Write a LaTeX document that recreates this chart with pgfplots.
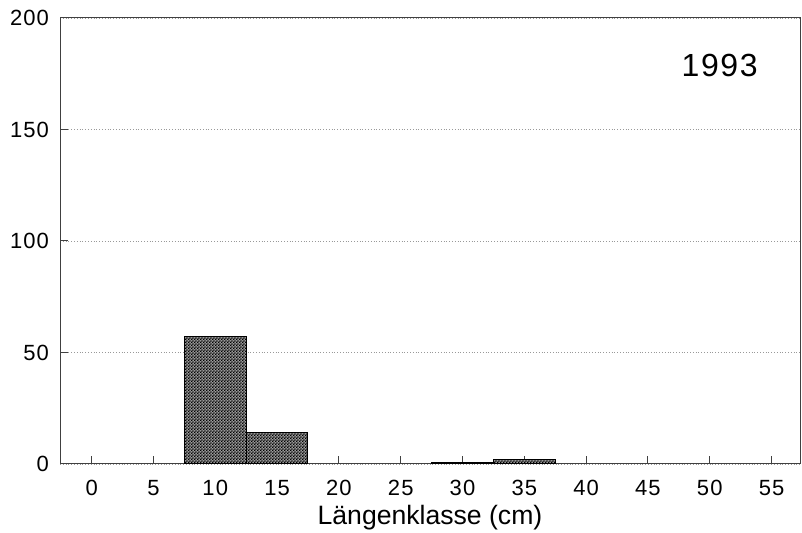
\documentclass[border=0pt]{standalone}
\usepackage{pgfplots}
\pgfplotsset{compat=1.18}
\usepackage{fontspec}
\setmainfont{Liberation Sans}
\newfontfamily\spacedfont[LetterSpace=5]{Liberation Sans}
\usetikzlibrary{patterns.meta}
\pgfdeclarepattern{
  name=finecheck,
  type=uncolored,
  bottom left={\pgfpoint{0pt}{0pt}},
  top right={\pgfpoint{1.4pt}{1.4pt}},
  tile size={\pgfpoint{1.4pt}{1.4pt}},
  code={
    \pgfpathrectangle{\pgfpoint{0pt}{0pt}}{\pgfpoint{0.7pt}{0.7pt}}
    \pgfpathrectangle{\pgfpoint{0.7pt}{0.7pt}}{\pgfpoint{0.7pt}{0.7pt}}
    \pgfusepath{fill}
  }
}
\begin{document}
\begin{tikzpicture}
\path[use as bounding box] (0,0) rectangle (401pt,266.5pt);
\begin{axis}[
  at={(30pt,34.5pt)}, anchor=south west,
  scale only axis, width=370pt, height=223pt,
  xmin=-2.56, xmax=57.3, ymin=0, ymax=200,
  xtick={0,5,...,55}, ytick={0,50,100,150,200},
  tick align=inside, major tick length=4pt,
  xtick pos=bottom, ytick pos=left,
  axis line style={black!75, line width=0.5pt},
  tick style={black!75, line width=0.5pt},
  ymajorgrids, grid style={densely dotted, black!40, line width=0.4pt},
  /pgf/number format/assume math mode=true,
  tick label style={font=\spacedfont\fontsize{11}{13}\selectfont},
  xticklabel style={yshift=-4.5pt},
  yticklabel style={xshift=-2pt},
  xlabel={Längenklasse (cm)},
  xlabel style={font=\fontsize{13.3}{15}\selectfont, at={(axis description cs:0.5,0)}, anchor=base, yshift=-30.5pt},
  clip=false,
]
\addplot[ybar, bar width=5, draw=black, line width=0.5pt, fill=black!40,
  postaction={pattern={finecheck}, pattern color=black}]
  coordinates {(10,57) (15,14) (30,0.8) (35,2.2)};
\node[font=\spacedfont\fontsize{16}{19}\selectfont] at (axis cs:50.8,178.9) {1993};
\end{axis}
\end{tikzpicture}
\end{document}
